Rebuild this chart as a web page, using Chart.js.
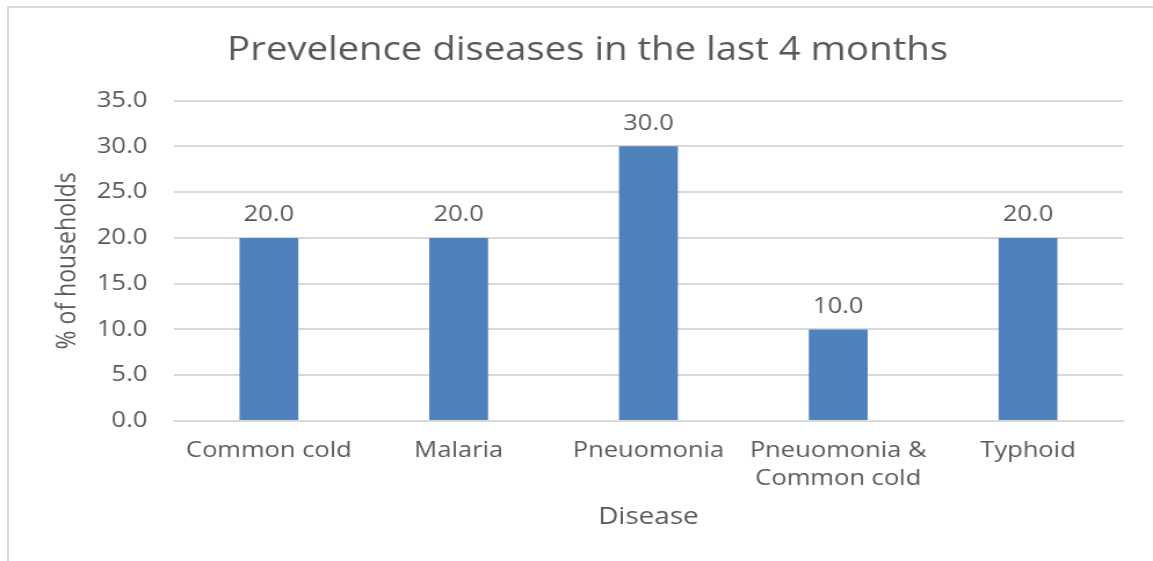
<!DOCTYPE html>
<html>
<head>
<meta charset="utf-8">
<script src="https://cdn.jsdelivr.net/npm/chart.js@4/dist/chart.umd.min.js"></script>
<style>
  html, body { margin: 0; padding: 0; background: #fff; overflow: hidden; }
  #wrap { position: absolute; left: 7px; top: 6px; width: 1150px; height: 560px;
          border-left: 2px solid #d9d9d9; border-top: 2px solid #d9d9d9; box-sizing: border-box; }
  /* the source picture is a bit wider than tall, so stretch the canvas sideways */
  #chart { position: absolute; left: 0; top: 0; transform: scaleX(1.16); transform-origin: 0 0; }
</style>
</head>
<body>
<div id="wrap"></div>
<canvas id="chart" width="994" height="561"></canvas>
<script>
// data
const diseases = ["Common cold", "Malaria", "Pneuomonia", ["Pneuomonia &", "Common cold"], "Typhoid"];
const percentHouseholds = [20.0, 20.0, 30.0, 10.0, 20.0];
const yTicks = [0, 5, 10, 15, 20, 25, 30, 35];

const textGray = "#595959";
const fontFam = "'Open Sans', 'DejaVu Sans', sans-serif";

// value labels above the bars
const barLabels = {
  id: "barLabels",
  afterDatasetsDraw(chart) {
    const ctx = chart.ctx;
    const meta = chart.getDatasetMeta(0);
    ctx.save();
    ctx.font = "22px " + fontFam;
    ctx.fillStyle = textGray;
    ctx.textAlign = "center";
    ctx.textBaseline = "middle";
    meta.data.forEach((bar, i) => {
      ctx.fillText(percentHouseholds[i].toFixed(1), bar.x, bar.y - 23);
    });
    ctx.restore();
  }
};

new Chart(document.getElementById("chart"), {
  type: "bar",
  data: {
    labels: diseases,
    datasets: [{
      data: percentHouseholds,
      backgroundColor: "#4f81bd",
      categoryPercentage: 1,
      barPercentage: 0.31
    }]
  },
  options: {
    responsive: false,
    animation: false,
    layout: { padding: { left: 45, right: 26, top: 31, bottom: 29 } },
    plugins: {
      legend: { display: false },
      tooltip: { enabled: false },
      title: {
        display: true,
        text: "Prevelence diseases in the last 4 months",
        color: textGray,
        font: { family: fontFam, size: 33, weight: "normal" },
        padding: { top: 0, bottom: 30 }
      }
    },
    scales: {
      x: {
        grid: { display: false },
        border: { color: "#d9d9d9", width: 2 },
        afterFit(axis) { axis.height = 111; },
        ticks: {
          color: textGray,
          font: { family: fontFam, size: 22, lineHeight: 1.3 },
          maxRotation: 0,
          autoSkip: false,
          padding: 7
        },
        title: {
          display: true,
          text: "Disease",
          color: textGray,
          font: { family: fontFam, size: 24 },
          padding: { top: 10, bottom: 0 }
        }
      },
      y: {
        min: 0,
        max: 35,
        afterBuildTicks(axis) { axis.ticks = yTicks.map(v => ({ value: v })); },
        afterFit(axis) { axis.width = 105; },
        grid: { color: "#d9d9d9", lineWidth: 2, drawTicks: false },
        border: { display: false },
        ticks: {
          color: textGray,
          font: { family: fontFam, size: 22 },
          padding: 23,
          callback: v => v.toFixed(1)
        },
        title: {
          display: true,
          text: "% of households",
          color: textGray,
          font: { family: fontFam, size: 23 },
          padding: { top: 0, bottom: 9 }
        }
      }
    }
  },
  plugins: [barLabels]
});
</script>
</body>
</html>
